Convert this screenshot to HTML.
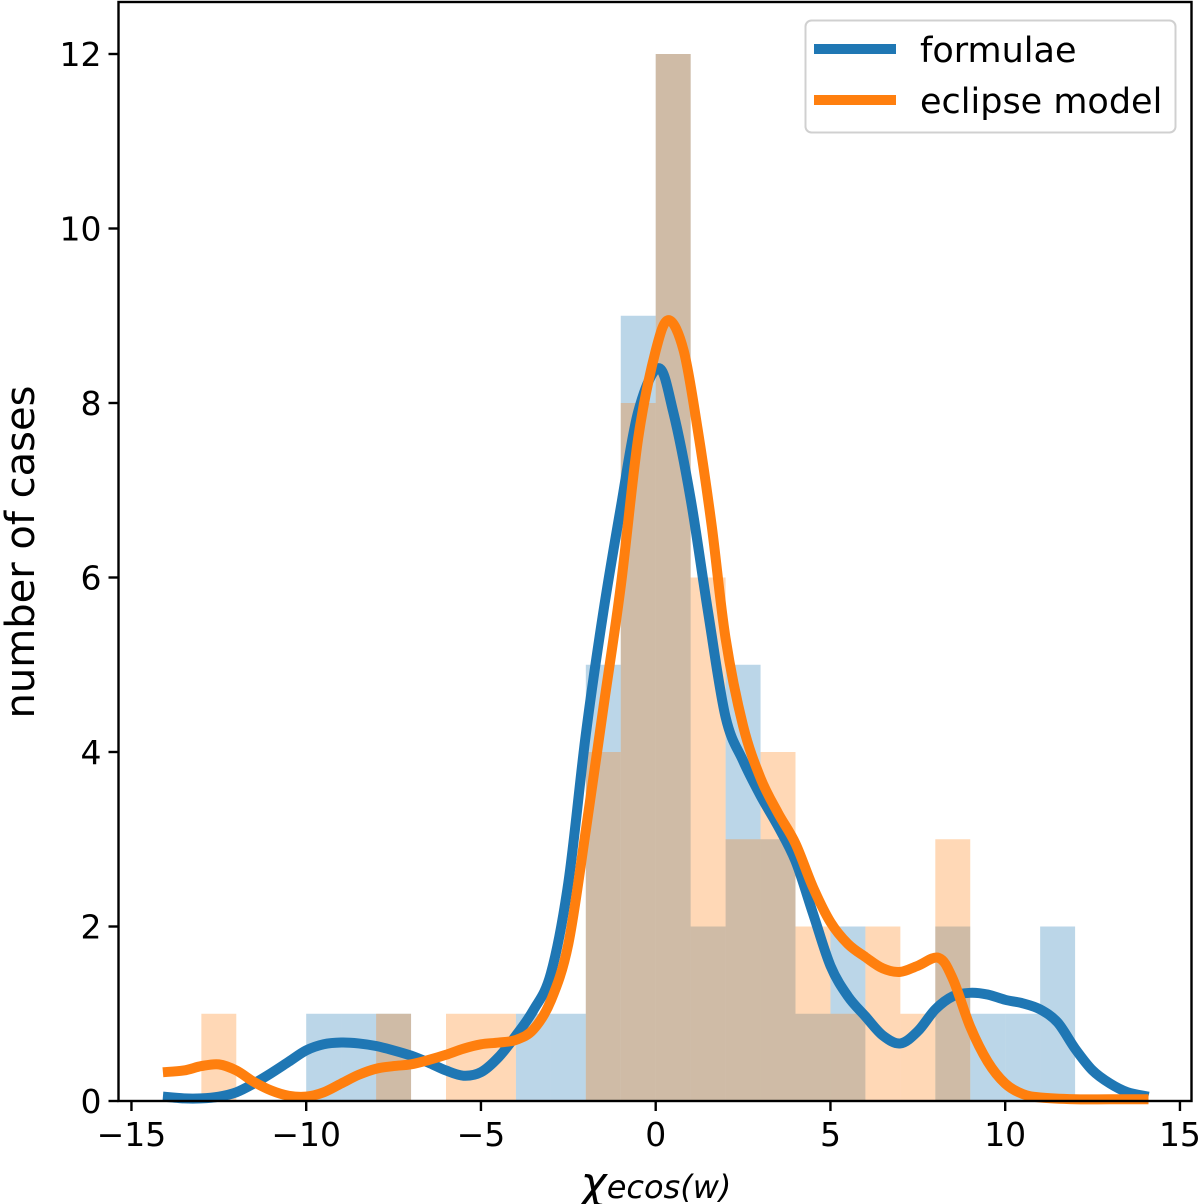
<!DOCTYPE html>
<html><head><meta charset="utf-8"><style>
body{margin:0;background:#fff}
svg{display:block}
text{font-family:"DejaVu Sans","Liberation Sans",sans-serif;fill:#000}
</style></head><body>
<svg id="chart" width="1200" height="1204">
<g id="bars"></g>
<g id="lines"></g>
<g id="axes"></g>
</svg>
<script>
const binStarts = [-14,-13,-12,-11,-10,-9,-8,-7,-6,-5,-4,-3,-2,-1,0,1,2,3,4,5,6,7,8,9,10,11,12,13];
const formulaeCounts = [0,0,0,0,1,1,1,0,0,0,1,1,5,9,12,2,5,3,1,2,0,0,2,1,1,2,0,0];
const eclipseCounts  = [0,1,0,0,0,0,1,0,1,1,0,0,4,8,12,6,3,4,2,1,2,1,3,0,0,0,0,0];
const formulaeKdeX = [-14.1,-13.5,-13,-12.5,-12,-11.5,-11,-10.5,-10,-9.5,-9,-8.5,-8,-7.5,-7,-6.5,-6,-5.5,-5,-4.5,-4,-3.5,-3,-2.5,-2,-1.5,-1,-0.5,0.08,0.5,1,1.5,2,2.5,3,3.5,4,4.5,5,5.5,6,6.5,7,7.5,8,8.5,9,9.5,10,10.5,11,11.5,12,12.5,13,13.5,14.1];
const formulaeKdeY = [0.05,0.03,0.03,0.05,0.1,0.2,0.32,0.45,0.58,0.65,0.67,0.66,0.63,0.58,0.52,0.44,0.35,0.29,0.33,0.5,0.75,1.04,1.46,2.5,4.2,5.6,6.8,7.9,8.4,7.9,6.9,5.6,4.4,3.9,3.5,3.15,2.75,2.15,1.55,1.2,0.97,0.75,0.66,0.8,1.05,1.2,1.24,1.22,1.16,1.12,1.05,0.9,0.6,0.35,0.2,0.1,0.05];
const eclipseKdeX = [-14.1,-13.5,-13,-12.5,-12,-11.5,-11,-10.5,-10,-9.5,-9,-8.5,-8,-7.5,-7,-6.5,-6,-5.5,-5,-4.5,-4,-3.5,-3,-2.5,-2,-1.5,-1,-0.5,0,0.37,0.8,1.2,1.6,2,2.5,3,3.5,4,4.5,5,5.5,6,6.5,7,7.5,8.1,8.5,9,9.5,10,10.5,11,12,13,14.1];
const eclipseKdeY = [0.33,0.35,0.4,0.42,0.35,0.22,0.12,0.06,0.05,0.1,0.2,0.3,0.37,0.4,0.42,0.47,0.53,0.6,0.65,0.67,0.7,0.82,1.15,1.8,3.1,4.5,5.9,7.6,8.6,8.95,8.6,7.7,6.6,5.3,4.3,3.7,3.3,2.95,2.45,2.05,1.8,1.65,1.52,1.48,1.55,1.64,1.4,0.85,0.45,0.2,0.08,0.04,0.02,0.02,0.02];
const xTicks = [-15,-10,-5,0,5,10,15];
const yTicks = [0,2,4,6,8,10,12];

const NS="http://www.w3.org/2000/svg";
const L=118.5,R=1191.5,T=2,B=1101;
const xs=v=>655.7+v*34.95;
const ys=v=>1101-v*87.25;
function mk(tag,attrs,parent){const e=document.createElementNS(NS,tag);for(const k in attrs)e.setAttribute(k,attrs[k]);parent.appendChild(e);return e;}
const bars=document.getElementById('bars'),lines=document.getElementById('lines'),axes=document.getElementById('axes');
function drawHist(counts,color,name){
  binStarts.forEach((b,i)=>{
    if(!counts[i])return;
    const r=mk('rect',{x:xs(b),y:ys(counts[i]),width:xs(b+1)-xs(b),height:ys(0)-ys(counts[i]),fill:color,'fill-opacity':0.3},bars);
    
    
  });
}
drawHist(formulaeCounts,'#1f77b4','formulae');
drawHist(eclipseCounts,'#ff7f0e','eclipse');
function smooth(X,Y){
  const p=X.map((x,i)=>[xs(x),ys(Y[i])]);
  let d='M'+p[0][0]+','+p[0][1];
  for(let i=0;i<p.length-1;i++){
    const p0=p[Math.max(0,i-1)],p1=p[i],p2=p[i+1],p3=p[Math.min(p.length-1,i+2)];
    const c1=[p1[0]+(p2[0]-p0[0])/6,p1[1]+(p2[1]-p0[1])/6];
    const c2=[p2[0]-(p3[0]-p1[0])/6,p2[1]-(p3[1]-p1[1])/6];
    d+=' C'+c1+' '+c2+' '+p2;
  }
  return d;
}
const l1=mk('path',{d:smooth(formulaeKdeX,formulaeKdeY),fill:'none',stroke:'#1f77b4','stroke-width':10,'stroke-linejoin':'round'},lines);


const l2=mk('path',{d:smooth(eclipseKdeX,eclipseKdeY),fill:'none',stroke:'#ff7f0e','stroke-width':10,'stroke-linejoin':'round'},lines);


const fr=mk('rect',{x:L,y:T,width:R-L,height:B-T,fill:'none',stroke:'#000','stroke-width':2.4},axes);


xTicks.forEach(t=>{
  mk('line',{x1:xs(t),x2:xs(t),y1:B,y2:B+10,stroke:'#000','stroke-width':2.4},axes);
  const tx=mk('text',{x:xs(t),y:B+45,'text-anchor':'middle','font-size':33},axes);
  tx.textContent=(t<0?'\u2212'+(-t):t);
  
  
});
yTicks.forEach(t=>{
  mk('line',{x1:L-10,x2:L,y1:ys(t),y2:ys(t),stroke:'#000','stroke-width':2.4},axes);
  const tx=mk('text',{x:L-17,y:ys(t)+12,'text-anchor':'end','font-size':33},axes);
  tx.textContent=t;
  
  
});
</script>
<svg width="1200" height="1204" style="position:absolute;left:0;top:0">
<text x="34" y="552" font-size="40" text-anchor="middle" transform="rotate(-90 34 552)" style="font-family:'DejaVu Sans','Liberation Sans',sans-serif">number of cases</text>
<text x="656" y="1198" font-size="36" text-anchor="middle" style="font-family:'DejaVu Sans','Liberation Sans',sans-serif;font-style:italic"><tspan font-size="44">χ</tspan><tspan font-size="32">ecos(w)</tspan></text>
<g>
<rect x="805.5" y="20.5" width="370" height="112" rx="6" fill="#fff" fill-opacity="0.85" stroke="#d0d0d0" stroke-width="2"/>
<line x1="814" x2="896" y1="49" y2="49" stroke="#1f77b4" stroke-width="10"/>
<text x="920" y="62" font-size="35" style="font-family:'DejaVu Sans','Liberation Sans',sans-serif">formulae</text>
<line x1="814" x2="896" y1="100" y2="100" stroke="#ff7f0e" stroke-width="10"/>
<text x="920" y="113" font-size="35" style="font-family:'DejaVu Sans','Liberation Sans',sans-serif">eclipse model</text>
</g>
</svg>
</body></html>
